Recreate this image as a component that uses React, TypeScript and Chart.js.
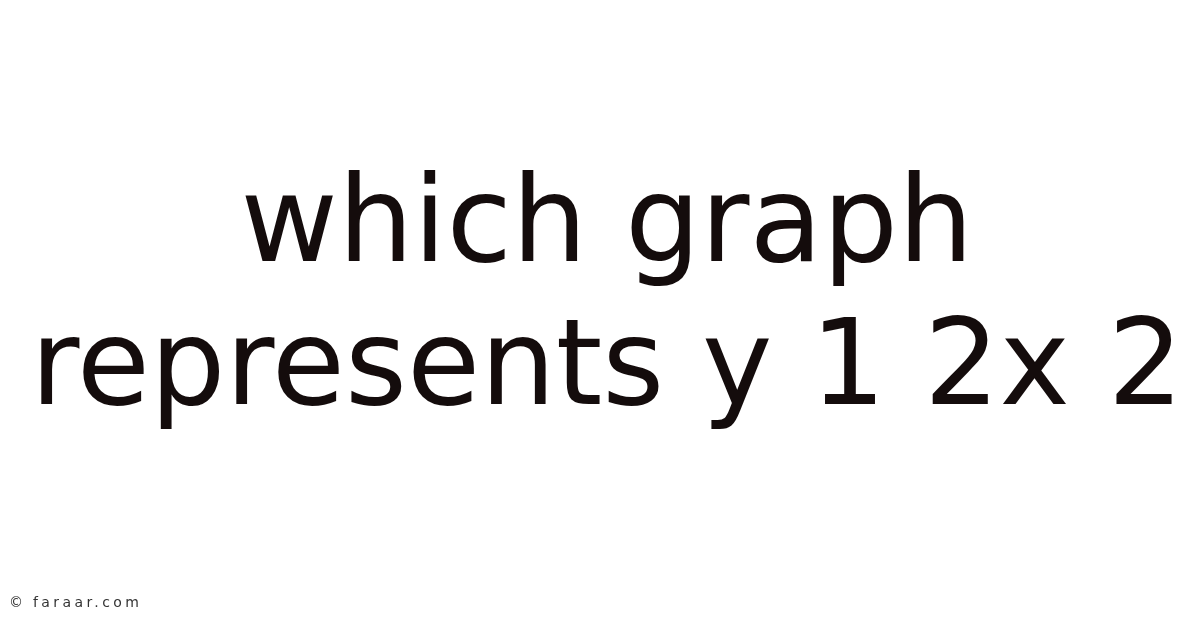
import { useEffect, useRef } from "react";
import { Chart, registerables } from "chart.js";

Chart.register(...registerables);

// the picture holds no data marks, only its heading and a source note
const headingLines = ["which graph", "represents y 1 2x 2"];
const sourceNote = ["©", "faraar.com"];
const labels: string[] = [];
const values: number[] = [];

// draws the small source note in the bottom-left corner
const sourceNotePlugin = {
  id: "sourceNote",
  afterDraw(chart: Chart) {
    const ctx = chart.ctx;
    ctx.save();
    ctx.fillStyle = "#333333";
    ctx.font = "14px 'DejaVu Sans'";
    ctx.textBaseline = "alphabetic";
    ctx.textAlign = "left";
    (ctx as any).letterSpacing = "3.4px";
    ctx.fillText(sourceNote[0], 9, 607);
    ctx.fillText(sourceNote[1], 33, 607);
    ctx.restore();
  },
};

const App = () => {
  const chartRef = useRef<HTMLCanvasElement | null>(null);

  useEffect(() => {
    document.body.style.margin = "0";
    document.body.style.background = "#ffffff";
    if (!chartRef.current) return;
    const ctx = chartRef.current.getContext("2d");
    if (!ctx) return;

    const myChart = new Chart(ctx, {
      type: "line",
      data: {
        labels: labels,
        datasets: [{ label: "y", data: values, borderWidth: 0, pointRadius: 0 }],
      },
      options: {
        responsive: false,
        animation: false,
        layout: { padding: { left: 14, right: 0, top: 0, bottom: 0 } },
        scales: {
          x: { display: false },
          y: { display: false },
        },
        plugins: {
          legend: { display: false },
          tooltip: { enabled: false },
          title: {
            display: true,
            text: headingLines,
            color: "#140c0c",
            font: { family: "'DejaVu Sans'", size: 119, weight: "normal", lineHeight: 1.2 },
            padding: { top: 159, bottom: 0 },
          },
        },
      },
      plugins: [sourceNotePlugin],
    });

    return () => {
      myChart.destroy();
    };
  }, []);

  return (
    <div style={{ width: 1200, height: 628, background: "#ffffff" }}>
      <canvas ref={chartRef} width={1200} height={628}></canvas>
    </div>
  );
};

export default App;
